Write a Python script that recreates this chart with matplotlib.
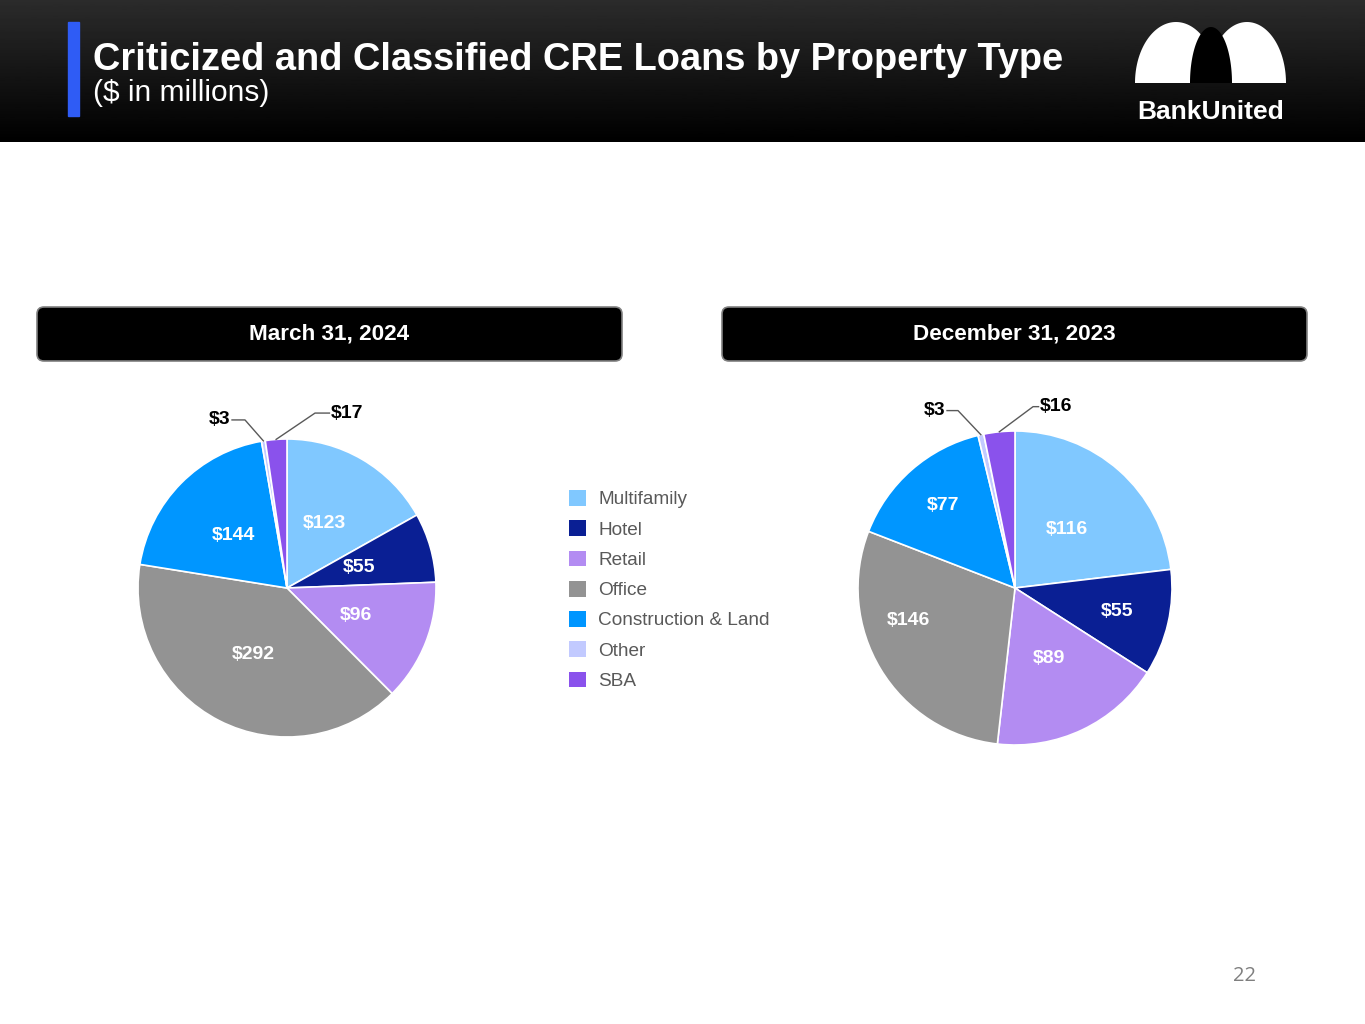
import numpy as np
import matplotlib
matplotlib.use("Agg")
import matplotlib.pyplot as plt
from matplotlib.patches import FancyBboxPatch, Rectangle, Polygon, Patch

plt.rcParams['font.family'] = ['Liberation Sans', 'DejaVu Sans']

# ===============================
# DATA
# ===============================
categories = ["Multifamily", "Hotel", "Retail", "Office",
              "Construction & Land", "Other", "SBA"]
colors = ["#80C8FF", "#0A1F94", "#B38CF2", "#939393",
          "#0096FF", "#C2CAFF", "#8A52EC"]

mar_2024 = [123, 55, 96, 292, 144, 3, 17]
dec_2023 = [116, 55, 89, 146, 77, 3, 16]

period_labels = ["March 31, 2024", "December 31, 2023"]

W, H = 1365, 1024
fig = plt.figure(figsize=(W / 100, H / 100), dpi=100)

# background layer in pixel coords
bg = fig.add_axes([0, 0, 1, 1])
bg.set_xlim(0, W)
bg.set_ylim(H, 0)
bg.axis("off")

# header gradient
grad = np.linspace(0.17, 0.0, 100).reshape(-1, 1)
bg.imshow(grad, cmap="gray", vmin=0, vmax=1, extent=[0, W, 142, 0],
          aspect="auto", zorder=0)
bg.add_patch(Rectangle((68, 22), 11, 94, color="#2F5CF5", zorder=2))
bg.text(93, 70, "Criticized and Classified CRE Loans by Property Type",
        color="white", fontsize=27.4, fontweight="bold", va="baseline",
        zorder=3)
bg.text(93, 101, "($ in millions)", color="white", fontsize=21.5,
        va="baseline", zorder=3)


# logo: two white domes with a black arch between
def dome(cx, base, a, b, color, z):
    t = np.linspace(0, np.pi, 80)
    pts = np.column_stack([cx + a * np.cos(t), base - b * np.sin(t)])
    bg.add_patch(Polygon(pts, closed=True, color=color, zorder=z, lw=0))


dome(1176, 83, 41, 61, "white", 3)
dome(1247, 83, 39, 61, "white", 3)
dome(1211, 83, 21, 56, "black", 4)
bg.text(1211, 119, "BankUnited", color="white", fontsize=19,
        fontweight="bold", ha="center", va="baseline", zorder=6)

# date boxes
for x0, lab in zip([37, 722], period_labels):
    bg.add_patch(FancyBboxPatch((x0, 307), 585, 54,
                                boxstyle="round,pad=0,rounding_size=7",
                                facecolor="black", edgecolor="#808080",
                                lw=1.2, zorder=2))
    bg.text(x0 + 292.5, 334, lab, color="white", fontsize=16.2,
            fontweight="bold", ha="center", va="center", zorder=3)

bg.text(1245, 976, "22", color="#7F7F7F", fontsize=14.5,
        family="Open Sans", ha="center", va="center")


# ===============================
# PIES
# ===============================
def draw_pie(cx, cy, r, values, leaders, dist, shift):
    ax = fig.add_axes([(cx - r) / W, (H - cy - r) / H, 2 * r / W, 2 * r / H])
    wedges, _ = ax.pie(values, colors=colors, startangle=90,
                       counterclock=False, radius=1,
                       wedgeprops=dict(edgecolor="white", linewidth=1.2))
    ax.set_xlim(-1, 1)
    ax.set_ylim(-1, 1)
    ax.axis("off")
    total = sum(values)
    cum = 0
    for i, v in enumerate(values):
        mid = np.deg2rad(90 - (cum + v / 2) / total * 360)
        cum += v
        if i in leaders:
            ex, ey, tx, ha = leaders[i]
            px, py = np.cos(mid), np.sin(mid)
            ax.plot([px, ex, tx], [py, ey, ey], color="#595959", lw=1,
                    clip_on=False)
            ax.text(tx + (0.01 if ha == "left" else -0.01), ey, f"${v}",
                    color="black", fontsize=14, fontweight="bold",
                    ha=ha, va="center")
        else:
            a = mid + np.deg2rad(shift[i])
            ax.text(dist[i] * np.cos(a), dist[i] * np.sin(a), f"${v}",
                    color="white", fontsize=14, fontweight="bold",
                    ha="center", va="center")
    return wedges


draw_pie(287, 588, 149, mar_2024,
         {5: (-0.282, 1.128, -0.369, "right"),
          6: (0.188, 1.174, 0.285, "left")},
         [0.5] * 5, [0] * 5)
draw_pie(1015, 588, 157, dec_2023,
         {5: (-0.363, 1.13, -0.433, "right"),
          6: (0.115, 1.155, 0.15, "left")},
         [0.5, 0.67, 0.5, 0.71, 0.7], [0, 0, 0, -14, 0])

handles = [Patch(facecolor=c, edgecolor="none") for c in colors]
fig.legend(handles, categories, loc="upper left",
           bbox_to_anchor=(569 / W, 1 - 490 / H), frameon=False,
           fontsize=13.7, labelcolor="#595959", handlelength=0.9,
           handleheight=0.9, handletextpad=0.65, labelspacing=0.62,
           borderpad=0, borderaxespad=0)

fig.savefig("out.png", dpi=100)
